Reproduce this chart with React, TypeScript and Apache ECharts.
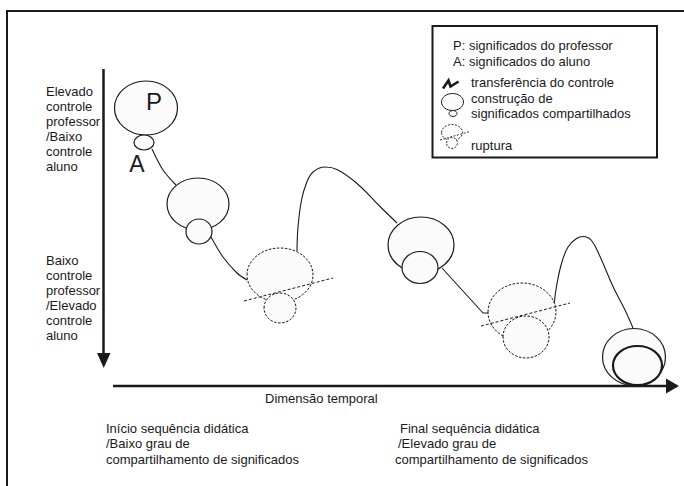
import React, { useEffect, useRef } from "react";
import * as echarts from "echarts";

// Diagram coordinates (x: time dimension, y: control, drawn top-down)
const SOLID_ELLIPSES: number[][] = [
  // cx, cy, rx, ry
  [146, 108, 31.5, 27],
  [144, 142.5, 10, 7.5],
  [198, 204, 31, 26],
  [199, 231.5, 13, 12.5],
  [421, 245, 33, 28],
  [420, 267.5, 18, 16],
  [634, 357, 31.5, 28.5],
];
const DASHED_ELLIPSES: number[][] = [
  [280, 275, 33, 27],
  [280, 308, 16, 15],
  [522, 312, 34, 29],
  [526, 337, 23, 21],
];
const BOLD_ELLIPSES: number[][] = [[637.5, 365.5, 24.5, 19.5]];

const RUPTURE_LINES: number[][][] = [
  [[244, 301], [333, 278]],
  [[481, 326], [570, 303]],
];

const CURVE_A: number[][] = [[152, 149], [163, 170], [176, 185]];
const CURVE_B: number[][] = [[211, 237], [223, 257], [237, 273], [247, 280]];
const CURVE_C: number[][] = [
  [297, 251], [298, 227], [301.5, 200], [306.5, 183], [313, 172], [325, 167],
  [337, 169.5], [357, 183.5], [380, 206.5], [397, 223],
];
const CURVE_D: number[][] = [[442, 268], [483, 313], [488, 313]];
const CURVE_E: number[][] = [
  [554, 306], [556.5, 286.5], [561.5, 263.5], [568, 247], [576.5, 238.5], [583, 236.5],
  [591.5, 240.5], [600, 256.5], [613, 286.5], [625, 310], [633, 328],
];

const TOP_LEFT_LABEL = ["Elevado", "controle", "professor", "/Baixo", "controle", "aluno"];
const BOTTOM_LEFT_LABEL = ["Baixo", "controle", "professor", "/Elevado", "controle", "aluno"];
const START_LABEL = ["Início sequência didática", "/Baixo grau de", "compartilhamento de significados"];
const END_LABEL = ["Final sequência didática", "/Elevado grau de", "compartilhamento de significados"];
const AXIS_LABEL = "Dimensão temporal";
const LEGEND_LINES = [
  "P: significados do professor",
  "A: significados do aluno",
  "transferência do controle",
  "construção de",
  "significados compartilhados",
  "ruptura",
];

const FONT = "'Liberation Sans', Arial, Helvetica, sans-serif";
const INK = "#1a1a1a";
const FILL = "#fbfbfb";

function text(x: number, y: number, t: string, size = 13, align = "left"): any {
  return {
    type: "text",
    x,
    y,
    z: 20,
    silent: true,
    style: {
      text: t,
      fill: INK,
      font: `${size}px ${FONT}`,
      align,
      verticalAlign: "middle",
    },
  };
}

function ellipseSeries(data: number[][], style: any, z: number): any {
  return {
    type: "custom",
    coordinateSystem: "cartesian2d",
    silent: true,
    z,
    clip: false,
    data,
    encode: { x: 0, y: 1 },
    renderItem: (params: any, api: any) => {
      const c = api.coord([api.value(0), api.value(1)]);
      const s = api.size([api.value(2) * 2, api.value(3) * 2], [api.value(0), api.value(1)]);
      return {
        type: "ellipse",
        shape: { cx: c[0], cy: c[1], rx: s[0] / 2, ry: s[1] / 2 },
        style,
      };
    },
  };
}

function curveSeries(data: number[][], smooth: number | boolean, z = 2, dashed = false): any {
  return {
    type: "line",
    data,
    smooth,
    silent: true,
    z,
    showSymbol: false,
    symbol: "none",
    lineStyle: { color: INK, width: dashed ? 1 : 1.1, type: dashed ? [3, 2] : "solid" },
  };
}

export default function App() {
  const ref = useRef<HTMLDivElement>(null);
  useEffect(() => {
    if (!ref.current) return;
    document.body.style.margin = "0";
    const chart = echarts.init(ref.current, undefined, { renderer: "svg" });

    const graphics: any[] = [];
    // frame
    graphics.push({
      type: "rect",
      silent: true,
      shape: { x: 7, y: 11, width: 720, height: 520 },
      style: { fill: "none", stroke: INK, lineWidth: 2 },
    });
    // vertical arrow
    graphics.push({
      type: "line",
      silent: true,
      shape: { x1: 103.5, y1: 69, x2: 103.5, y2: 356 },
      style: { stroke: INK, lineWidth: 2.5 },
    });
    graphics.push({
      type: "polygon",
      silent: true,
      shape: { points: [[97, 353], [110.5, 353], [103.7, 368]] },
      style: { fill: INK },
    });
    // horizontal arrow
    graphics.push({
      type: "line",
      silent: true,
      shape: { x1: 113, y1: 386, x2: 668, y2: 386 },
      style: { stroke: INK, lineWidth: 2.5 },
    });
    graphics.push({
      type: "polygon",
      silent: true,
      shape: { points: [[666, 378.5], [666, 393.5], [679, 386]] },
      style: { fill: INK },
    });
    // left labels
    TOP_LEFT_LABEL.forEach((t, i) => graphics.push(text(46, 91 + i * 15, t)));
    BOTTOM_LEFT_LABEL.forEach((t, i) => graphics.push(text(46, 260.5 + i * 15, t)));
    // bottom labels
    graphics.push(text(265, 398, AXIS_LABEL));
    START_LABEL.forEach((t, i) => graphics.push(text(106, 428 + i * 15.5, t)));
    END_LABEL.forEach((t, i) => graphics.push(text([400, 398, 395][i], 428 + i * 15.5, t)));
    // P and A letters
    graphics.push(text(154, 101.5, "P", 24, "center"));
    graphics.push(text(137, 164, "A", 23, "center"));

    // legend
    graphics.push({
      type: "rect",
      silent: true,
      shape: { x: 432.5, y: 26, width: 224.5, height: 131.5 },
      style: { fill: "#fff", stroke: INK, lineWidth: 2 },
    });
    graphics.push(text(453, 45, LEGEND_LINES[0]));
    graphics.push(text(453, 61, LEGEND_LINES[1]));
    graphics.push(text(471, 82.5, LEGEND_LINES[2]));
    graphics.push(text(471, 98.5, LEGEND_LINES[3]));
    graphics.push(text(471, 113, LEGEND_LINES[4]));
    graphics.push(text(471, 145, LEGEND_LINES[5]));
    graphics.push({
      type: "polyline",
      silent: true,
      z: 20,
      shape: { points: [[443, 88.5], [448.5, 80.5], [450.5, 86.5], [458.5, 81.5]] },
      style: { stroke: INK, lineWidth: 2.6, fill: "none", lineJoin: "miter" },
    });
    graphics.push({
      type: "ellipse",
      silent: true,
      z: 20,
      shape: { cx: 452.5, cy: 102, rx: 11, ry: 8.5 },
      style: { fill: FILL, stroke: INK, lineWidth: 1 },
    });
    graphics.push({
      type: "ellipse",
      silent: true,
      z: 20,
      shape: { cx: 453, cy: 113.5, rx: 4, ry: 3 },
      style: { fill: FILL, stroke: INK, lineWidth: 1 },
    });
    graphics.push({
      type: "ellipse",
      silent: true,
      z: 20,
      shape: { cx: 452, cy: 132.5, rx: 10.5, ry: 8 },
      style: { fill: FILL, stroke: INK, lineWidth: 0.9, lineDash: [2, 1.5] },
    });
    graphics.push({
      type: "ellipse",
      silent: true,
      z: 20,
      shape: { cx: 452, cy: 143, rx: 5.5, ry: 5.5 },
      style: { fill: FILL, stroke: INK, lineWidth: 0.9, lineDash: [2, 1.5] },
    });
    graphics.push({
      type: "line",
      silent: true,
      z: 20,
      shape: { x1: 440, y1: 140, x2: 470, y2: 131.5 },
      style: { stroke: INK, lineWidth: 0.9, lineDash: [2, 1.5] },
    });

    chart.setOption({
      animation: false,
      backgroundColor: "#fff",
      grid: { left: 0, right: 0, top: 0, bottom: 0 },
      xAxis: { type: "value", min: 0, max: 684, show: false },
      yAxis: { type: "value", min: 0, max: 486, inverse: true, show: false },
      tooltip: { show: false },
      graphic: graphics,
      series: [
        curveSeries(CURVE_A, 0.3),
        curveSeries(CURVE_B, 0.3),
        curveSeries(CURVE_C, 0.4),
        curveSeries(CURVE_D, false),
        curveSeries(CURVE_E, 0.4),
        ellipseSeries(SOLID_ELLIPSES, { fill: FILL, stroke: INK, lineWidth: 1.2 }, 3),
        ellipseSeries(DASHED_ELLIPSES, { fill: FILL, stroke: INK, lineWidth: 1, lineDash: [2.5, 1.5] }, 4),
        ellipseSeries(BOLD_ELLIPSES, { fill: FILL, stroke: INK, lineWidth: 2.2 }, 5),
        ...RUPTURE_LINES.map((l) => curveSeries(l, false, 6, true)),
      ],
    });
    return () => chart.dispose();
  }, []);
  return <div ref={ref} style={{ width: 684, height: 486, background: "#fff" }} />;
}
